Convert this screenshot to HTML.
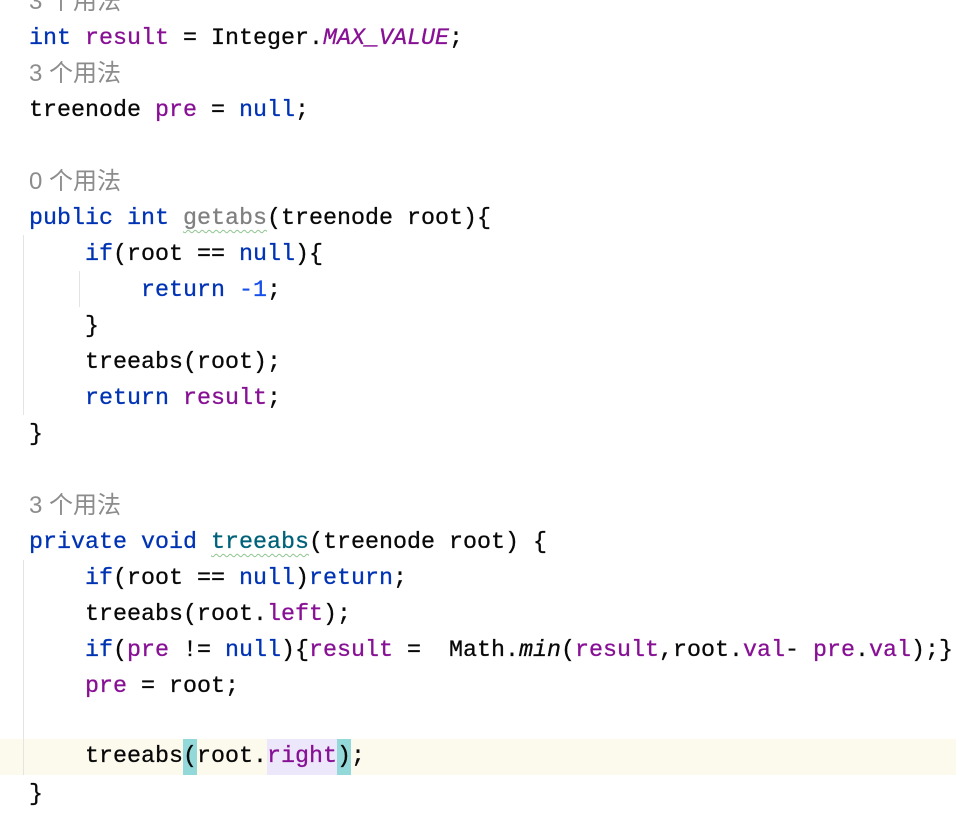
<!DOCTYPE html>
<html><head><meta charset="utf-8"><style>
html,body{margin:0;padding:0;background:#fff;width:956px;height:816px;overflow:hidden;position:relative}
.l{position:absolute;left:29px;height:36px;line-height:36px;margin-top:2px;white-space:pre;font-family:"Liberation Mono","Noto Sans CJK SC",monospace;font-size:23.33px;color:#080808;-webkit-text-stroke:0.3px}
.h{position:absolute;left:29px;height:36px;line-height:36px;margin-top:1px;white-space:pre;font-family:"Liberation Sans","Noto Sans CJK SC",sans-serif;font-size:24px;color:#8c8c8c}
.k{color:#0033b3}.f{color:#871094}.i{font-style:italic}.n{color:#1750eb}
.g{color:#808080;text-decoration:underline wavy #8fc58f;text-underline-offset:5px;text-decoration-thickness:1px}
.t{color:#00627a;text-decoration:underline wavy #8fc58f;text-underline-offset:5px;text-decoration-thickness:1px}
.bb{background:#93d9d9;display:inline-block;height:36px;vertical-align:top}.rb{background:#ede7fb;display:inline-block;height:36px;vertical-align:top}
.v{position:absolute;width:1px;background:#e4e4e4}
</style></head><body>
<div style="position:absolute;left:0;top:739px;width:956px;height:36px;background:#fcfaed"></div>
<div class="v" style="left:23px;top:235px;height:180px"></div>
<div class="v" style="left:79px;top:271px;height:36px"></div>
<div class="v" style="left:23px;top:560px;height:215px"></div>
<div class="h" style="top:-17px">3 个用法</div>
<div class="l" style="top:19px"><span class="k">int</span> <span class="f">result</span> = Integer.<span class="f i">MAX_VALUE</span>;</div>
<div class="h" style="top:55px">3 个用法</div>
<div class="l" style="top:91px">treenode <span class="f">pre</span> = <span class="k">null</span>;</div>
<div class="h" style="top:163px">0 个用法</div>
<div class="l" style="top:199px"><span class="k">public int</span> <span class="g">getabs</span>(treenode root){</div>
<div class="l" style="top:235px">    <span class="k">if</span>(root == <span class="k">null</span>){</div>
<div class="l" style="top:271px">        <span class="k">return</span> <span class="n">-1</span>;</div>
<div class="l" style="top:307px">    }</div>
<div class="l" style="top:343px">    treeabs(root);</div>
<div class="l" style="top:379px">    <span class="k">return</span> <span class="f">result</span>;</div>
<div class="l" style="top:415px">}</div>
<div class="h" style="top:487px">3 个用法</div>
<div class="l" style="top:523px"><span class="k">private void</span> <span class="t">treeabs</span>(treenode root) {</div>
<div class="l" style="top:559px">    <span class="k">if</span>(root == <span class="k">null</span>)<span class="k">return</span>;</div>
<div class="l" style="top:595px">    treeabs(root.<span class="f">left</span>);</div>
<div class="l" style="top:631px">    <span class="k">if</span>(<span class="f">pre</span> != <span class="k">null</span>){<span class="f">result</span> =  Math.<span class="i">min</span>(<span class="f">result</span>,root.<span class="f">val</span>- <span class="f">pre</span>.<span class="f">val</span>);}</div>
<div class="l" style="top:667px">    <span class="f">pre</span> = root;</div>
<div class="l" style="top:737px">    treeabs<span class="bb">(</span>root.<span class="f rb">right</span><span class="bb">)</span>;</div>
<div class="l" style="top:775px">}</div>
</body></html>
